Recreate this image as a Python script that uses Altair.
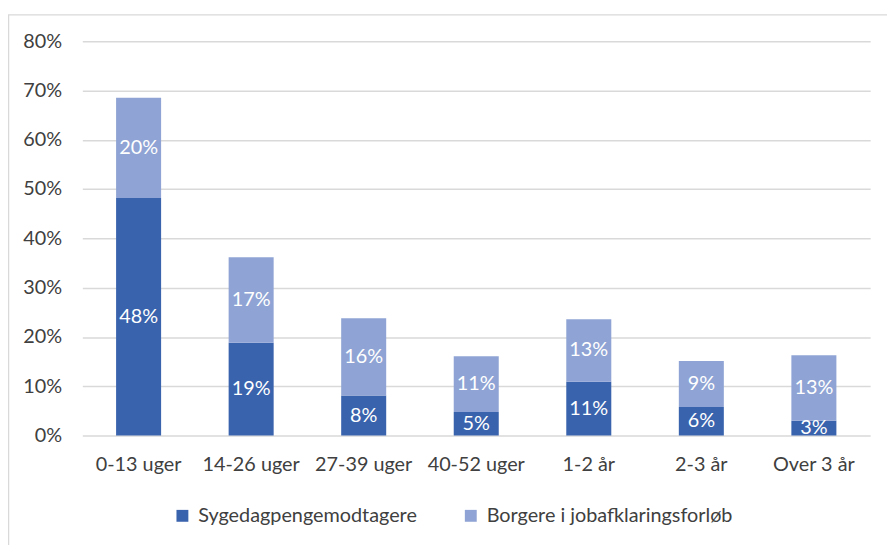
import altair as alt
import pandas as pd

categories = ["0-13 uger", "14-26 uger", "27-39 uger", "40-52 uger", "1-2 år", "2-3 år", "Over 3 år"]
series = ["Sygedagpengemodtagere", "Borgere i jobafklaringsforløb"]
syge = [48.2, 18.8, 8.1, 4.8, 10.9, 5.8, 3.0]
jobaf = [20.3, 17.35, 15.7, 11.3, 12.7, 9.3, 13.3]
y_ticks = [0, 10, 20, 30, 40, 50, 60, 70, 80]
colors = ["#3A63AD", "#8FA4D4"]

rows = []
for i, c in enumerate(categories):
    rows.append({"cat": c, "series": series[0], "ord": 0, "value": syge[i]})
    rows.append({"cat": c, "series": series[1], "ord": 1, "value": jobaf[i]})
df = pd.DataFrame(rows)

FONT = "Lato"
TXT = "#404040"
W, H = 795, 398

base = alt.Chart(df).transform_stack(
    stack="value", groupby=["cat"], sort=[alt.SortField("ord", order="ascending")], as_=["v0", "v1"]
).transform_calculate(
    mid="(datum.v0 + datum.v1) / 2",
    lbl="format(datum.value, '.0f') + '%'"
)

xenc = alt.X("cat:N", sort=categories, title=None,
             scale=alt.Scale(paddingInner=0.6, paddingOuter=0.3),
             axis=alt.Axis(labelAngle=0, domain=False, ticks=False, labelFont=FONT,
                           labelFontSize=20, labelColor=TXT, labelPadding=19, grid=False))

bars = base.mark_bar().encode(
    x=xenc,
    y=alt.Y("v0:Q", title=None, scale=alt.Scale(domain=[0, 80], nice=False),
            axis=alt.Axis(values=y_ticks, labelExpr="datum.value + '%'", domain=False, ticks=False,
                          labelFont=FONT, labelFontSize=20, labelColor=TXT, labelPadding=21,
                          gridColor="#d9d9d9", gridWidth=1.5)),
    y2="v1:Q",
    color=alt.Color("series:N", scale=alt.Scale(domain=series, range=colors),
                    legend=alt.Legend(title=None, orient="none", direction="horizontal",
                                      legendX=91, legendY=469, symbolType="square", symbolSize=144,
                                      symbolStrokeWidth=0, symbolOpacity=1,
                                      labelFont=FONT, labelFontSize=20, labelColor=TXT,
                                      columnPadding=44, labelOffset=6, labelLimit=400)),
)

labels = base.mark_text(color="white", font=FONT, fontSize=20, baseline="middle").encode(
    x=alt.X("cat:N", sort=categories),
    y=alt.Y("mid:Q"),
    text="lbl:N",
)

frame = alt.Chart(pd.DataFrame({"a": [0]})).mark_rect(
    fill=None, stroke="#d9d9d9", strokeWidth=1.5
).encode(
    x=alt.value(-74.5), x2=alt.value(W + 200), y=alt.value(-26.5), y2=alt.value(H + 300)
)

chart = alt.layer(frame, bars, labels).properties(
    width=W, height=H,
    padding={"left": 75, "top": 31, "right": 17, "bottom": 108},
    autosize=alt.AutoSizeParams(type="none"),
    background="white",
).configure_view(stroke=None)

chart.save("out.html", embed_options={"renderer": "svg", "actions": False})
